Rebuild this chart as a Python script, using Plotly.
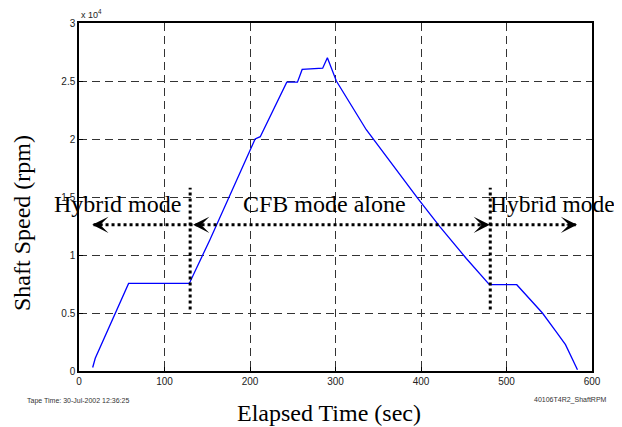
import plotly.graph_objects as go

# Data
time_s = [16, 19, 58, 129, 153, 206, 212, 243, 255.5, 261, 285, 290.5, 301, 336, 396, 422, 453, 480, 512, 542, 558, 569, 583]
shaft_rpm = [300, 1100, 7550, 7550, 11300, 20000, 20200, 24900, 24900, 26000, 26100, 27000, 25000, 20800,
             14900, 12450, 9700, 7440, 7440, 5000, 3400, 2270, 100]

x_ticks = [0, 100, 200, 300, 400, 500, 600]
y_ticks = [0, 5000, 10000, 15000, 20000, 25000, 30000]
y_tick_labels = ["0", "0.5", "1", "1.5", "2", "2.5", "3"]

mode_labels = ["Hybrid mode", "CFB mode alone", "Hybrid mode"]
mode_label_px = [117, 324, 552]
mode_label_size = [24, 24, 23.5]
mode_boundaries = [130, 481]
arrow_y = 12600

serif = "Liberation Serif, Times New Roman, serif"
sans = "Liberation Sans, Arial, sans-serif"

# page body has an 8px margin; compensate so the plot lands where the reference has it
OFF = 8
W, H = 622 - OFF, 427 - OFF
L, R, T, B = 79 - OFF, 30, 23 - OFF, 56
pw, ph = W - L - R, H - T - B


def px_x(p):
    return (p - OFF - L) / pw


def px_y(p):
    return (H - B - (p - OFF)) / ph


fig = go.Figure()
fig.add_trace(go.Scatter(x=time_s, y=shaft_rpm, mode="lines",
                         line=dict(color="#0000ff", width=1.3), showlegend=False,
                         hoverinfo="skip"))

fig.update_layout(
    width=W, height=H,
    margin=dict(l=L, r=R, t=T, b=B, autoexpand=False),
    paper_bgcolor="white", plot_bgcolor="white",
    showlegend=False,
)
axis_common = dict(
    showline=True, linecolor="black", linewidth=1.5, mirror=True,
    ticks="inside", ticklen=4, tickcolor="black",
    showgrid=True, gridcolor="#333333", gridwidth=1, griddash="8px,5px",
    zeroline=False, tickfont=dict(family=sans, size=10, color="#222"),
    automargin=False,
)
fig.update_xaxes(range=[0, 600], tickvals=x_ticks, **axis_common)
fig.update_yaxes(range=[0, 30000], tickvals=y_ticks, ticktext=y_tick_labels, **axis_common)

# Dotted mode boundary lines
for xb in mode_boundaries:
    fig.add_shape(type="line", xref="x", yref="y", x0=xb, x1=xb, y0=5300, y1=15800,
                  line=dict(color="black", width=3, dash="dot"), layer="above")
# Dotted horizontal arrow line
fig.add_shape(type="line", xref="x", yref="y", x0=17, x1=581, y0=arrow_y, y1=arrow_y,
              line=dict(color="black", width=3, dash="dot"), layer="above")

# Arrowheads: (tip x, direction)
heads = [(15.5, -1), (133.5, -1), (480.5, 1), (582.5, 1)]
for tip, d in heads:
    fig.add_annotation(x=tip, y=arrow_y, xref="x", yref="y", text="",
                       showarrow=True, arrowhead=3, arrowsize=2.7, arrowwidth=1,
                       arrowcolor="black", ax=-12 * d, ay=0)

# Mode labels
for lab, p, fs in zip(mode_labels, mode_label_px, mode_label_size):
    fig.add_annotation(x=px_x(p), y=px_y(204), xref="paper", yref="paper", text=lab,
                       showarrow=False, font=dict(family=serif, size=fs, color="black"),
                       xanchor="center", yanchor="middle")

# Axis titles as annotations
fig.add_annotation(x=px_x(329), y=px_y(413), xref="paper", yref="paper",
                   text="Elapsed Time (sec)", showarrow=False,
                   font=dict(family=serif, size=24, color="black"),
                   xanchor="center", yanchor="middle")
fig.add_annotation(x=px_x(22), y=px_y(223), xref="paper", yref="paper",
                   text="Shaft Speed (rpm)", showarrow=False, textangle=-90,
                   font=dict(family=serif, size=24, color="black"),
                   xanchor="center", yanchor="middle")
# Exponent label
fig.add_annotation(x=0, y=1, xref="paper", yref="paper", text="x 10<sup>4</sup>",
                   showarrow=False, font=dict(family=sans, size=9, color="#222"),
                   xanchor="left", yanchor="bottom", yshift=1)
# Footer texts
fig.add_annotation(x=px_x(25), y=px_y(401), xref="paper", yref="paper",
                   text="Tape Time: 30-Jul-2002 12:36:25", showarrow=False,
                   font=dict(family=sans, size=7, color="#333"), xanchor="left", yanchor="middle")
fig.add_annotation(x=px_x(609), y=px_y(400), xref="paper", yref="paper",
                   text="40106T4R2_ShaftRPM", showarrow=False,
                   font=dict(family=sans, size=7, color="#333"), xanchor="right", yanchor="middle")

fig.write_html("out.html")
